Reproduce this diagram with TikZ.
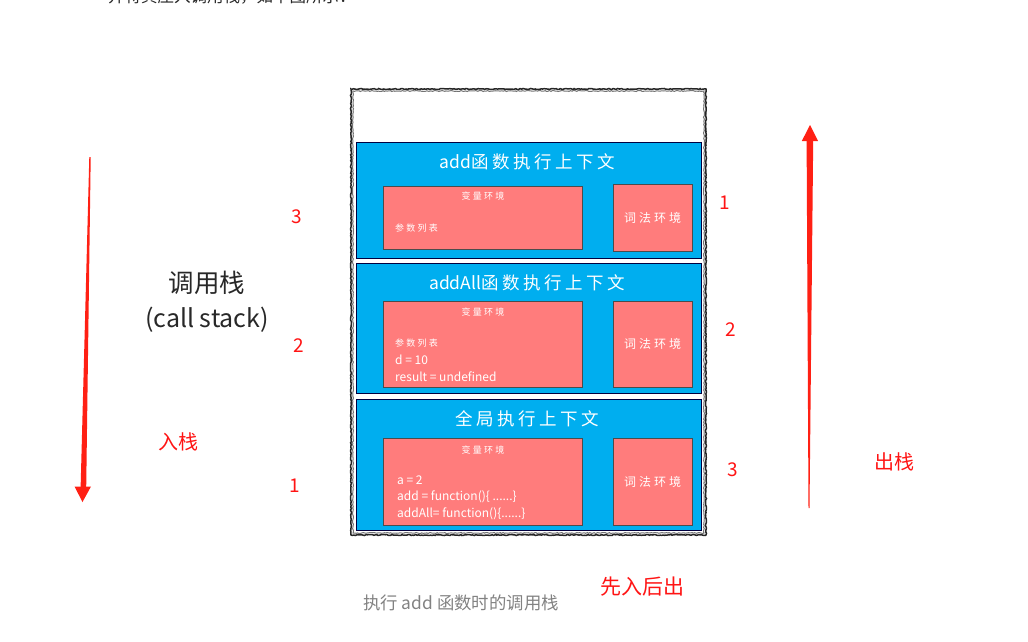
\documentclass[tikz,border=0pt]{standalone}
\usepackage{fontspec}
\setmainfont{Noto Sans CJK SC}
\newfontfamily\cjk{Noto Sans CJK SC}
\newfontfamily\hand[LetterSpace=20]{Noto Sans CJK SC}
\newfontfamily\handw[LetterSpace=25]{Noto Sans CJK SC}
\usetikzlibrary{decorations.pathmorphing}
\definecolor{skyb}{RGB}{0,174,239}
\definecolor{salmon}{RGB}{255,124,124}
\definecolor{arrred}{RGB}{255,32,20}
\definecolor{numred}{RGB}{255,20,20}
\definecolor{capgray}{RGB}{130,130,130}
\definecolor{textdark}{RGB}{40,40,40}
\tikzset{
  box/.style={anchor=north west, inner sep=0pt, outer sep=0pt},
  ctx/.style={box, draw=black!75!blue, fill=skyb, line width=1pt},
  env/.style={box, draw=black!70, fill=salmon, line width=0.8pt},
  sketch/.style={draw=black!85, line width=1.5pt, decorate,
    decoration={random steps, segment length=1.5pt, amplitude=0.5pt}},
  title/.style={text=white, font=\hand\fontsize{17.5}{20}\selectfont, inner sep=0pt},
  small/.style={text=white, font=\handw\fontsize{9}{11}\selectfont, inner sep=0pt},
  lex/.style={text=white, font=\handw\fontsize{12}{14}\selectfont, inner sep=0pt},
  code/.style={text=white, font=\cjk\fontsize{12}{14}\selectfont, inner sep=0pt, anchor=west},
  num/.style={text=numred, font=\cjk\fontsize{19}{22}\selectfont, inner sep=0pt},
  redlab/.style={text=numred, font=\cjk\fontsize{20}{24}\selectfont, inner sep=0pt},
}
\begin{document}
\begin{tikzpicture}[x=1pt,y=-1pt]
\useasboundingbox (0,0) rectangle (1028,642);
% cut-off line of text at top (as in the reference)
\node[anchor=base west, inner sep=0pt, text=textdark, font=\cjk\fontsize{16.5}{20}\selectfont] (toptext) at (108,2.5) {并将其压入调用栈，如下图所示：};
% outer stack frame
\draw[sketch] (351,89) rectangle (706,535);
\draw[sketch, draw=black!55, line width=1pt] (353,91) rectangle (704,533);
\node[box, minimum width=355, minimum height=446] (stack) at (351,89) {};
% contexts
\node[ctx, minimum width=345, minimum height=116] (c1) at (356,142) {};
\node[ctx, minimum width=345, minimum height=130] (c2) at (356,263) {};
\node[ctx, minimum width=345, minimum height=131] (c3) at (356,399) {};
% env boxes
\node[env, minimum width=199, minimum height=63] (v1) at (383,186) {};
\node[env, minimum width=79, minimum height=67] (l1) at (613,184) {};
\node[env, minimum width=199, minimum height=86] (v2) at (383,301) {};
\node[env, minimum width=79, minimum height=86] (l2) at (613,301) {};
\node[env, minimum width=199, minimum height=87] (v3) at (383,438) {};
\node[env, minimum width=79, minimum height=87] (l3) at (613,438) {};
% titles
\node[title] (t1) at (527,162) {{\cjk add}函数执行上下文};
\node[title] (t2) at (527,283) {{\cjk addAll}函数执行上下文};
\node[title] (t3) at (527,419) {全局执行上下文};
% variable env labels
\node[small] (ve1) at (483,196) {变量环境};
\node[small] (ve2) at (483,312) {变量环境};
\node[small] (ve3) at (483,450) {变量环境};
\node[small, anchor=west] (p1) at (395,228) {参数列表};
\node[small, anchor=west] (p2) at (395,343) {参数列表};
\node[code] (d2) at (395,360) {d = 10};
\node[code] (r2) at (395,377) {result = undefined};
\node[code] (a3) at (397,480) {a = 2};
\node[code] (f3) at (397,497) {add = function()\{ ......\}};
\node[code] (g3) at (397,514) {addAll= function()\{......\}};
% lexical env labels
\node[lex] (le1) at (l1.center) {词法环境};
\node[lex] (le2) at (l2.center) {词法环境};
\node[lex] (le3) at (l3.center) {词法环境};
% left labels
\node[text=textdark, font=\cjk\fontsize{25.5}{28}\selectfont, inner sep=0pt] (cs1) at (207,283) {调用栈};
\node[text=textdark, font=\cjk\fontsize{25}{28}\selectfont, inner sep=0pt] (cs2) at (207,320) {(call stack)};
\node[num] (n3l) at (297,217) {3};
\node[num] (n2l) at (299,346) {2};
\node[num] (n1l) at (295,486) {1};
\node[redlab] (push) at (178,442) {入栈};
% right labels
\node[num] (n1r) at (725,203) {1};
\node[num] (n2r) at (731,330) {2};
\node[num] (n3r) at (733,470) {3};
\node[redlab] (pop) at (894,462) {出栈};
% bottom
\node[text=capgray, font=\cjk\fontsize{17.4}{20}\selectfont, inner sep=0pt] (cap) at (461,603) {执行 add 函数时的调用栈};
\node[text=numred, font=\cjk\fontsize{21}{24}\selectfont, inner sep=0pt] (lifo) at (642,587) {先入后出};
% tapered arrows
\coordinate (inTop) at (90,157);
\coordinate (inTip) at (82.5,502);
\fill[arrred] (89.3,157) -- (90.7,157) -- (86.2,488) -- (80.6,488) -- cycle;
\fill[arrred] (74.5,486.5) -- (91,486.5) -- (inTip) -- cycle;
\coordinate (outBot) at (809,508);
\coordinate (outTip) at (810,125);
\fill[arrred] (808.5,508) -- (809.5,508) -- (813.2,140) -- (806.6,140) -- cycle;
\fill[arrred] (801.8,141) -- (818,141) -- (outTip) -- cycle;
\end{tikzpicture}
\end{document}
